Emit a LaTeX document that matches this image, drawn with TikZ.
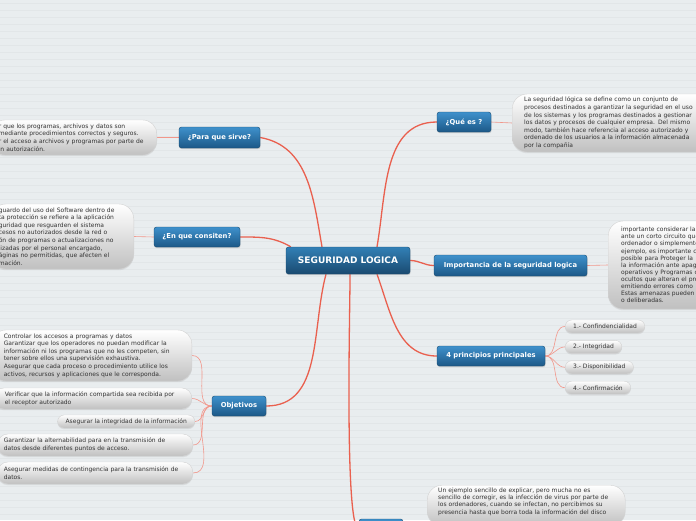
\documentclass[tikz,border=0pt]{standalone}
\usepackage{fontspec}
\setmainfont{DejaVu Sans}
\usetikzlibrary{positioning,shadows,backgrounds}
\definecolor{mapbg}{HTML}{E9EDEF}
\definecolor{ruleline}{HTML}{E2E6E8}
\definecolor{topictop}{HTML}{3F91CC}
\definecolor{topicbot}{HTML}{1C5887}
\definecolor{topicedge}{HTML}{174A70}
\definecolor{roottop}{HTML}{3280B6}
\definecolor{rootbot}{HTML}{1A4A70}
\definecolor{branchred}{HTML}{E9604F}
\definecolor{twigred}{HTML}{F2968A}
\definecolor{notegrey}{HTML}{C0C0C0}
\definecolor{noteedge}{HTML}{D2D2D2}
\definecolor{notetext}{HTML}{333333}

\begin{document}
\begin{tikzpicture}[
  x=1pt, y=1pt,
  topic/.style={
    draw=topicedge,
    rounded corners=2.5pt,
    top color=topictop,
    bottom color=topicbot,
    text=white,
    inner sep=0pt,
    minimum height=20pt,
    font=\fontsize{6.8}{7}\selectfont\bfseries,
    drop shadow={opacity=0.3, shadow xshift=0.5pt, shadow yshift=-1.2pt}
  },
  root/.style={
    topic,
    top color=roottop,
    bottom color=rootbot,
    minimum height=27pt,
    font=\fontsize{9}{9}\selectfont\bfseries
  },
  note/.style={
    draw=noteedge,
    rounded corners=10pt,
    top color=white,
    bottom color=notegrey,
    text=notetext,
    align=left,
    inner ysep=3pt,
    font=\fontsize{6}{7.6}\selectfont,
    drop shadow={opacity=0.15, shadow xshift=0pt, shadow yshift=-1.2pt}
  },
  leaf/.style={note, rounded corners=6.5pt, inner xsep=8pt, inner ysep=0pt, minimum height=13pt},
  branch/.style={draw=branchred, line width=1.3pt},
  twig/.style={draw=twigred, line width=0.6pt}
]
\useasboundingbox (0,0) rectangle (696,-520);

\node[root, minimum width=124pt] (seg) at (348,-260.5) {SEGURIDAD LOGICA};
\node[topic, minimum width=54pt] (que) at (464,-122) {¿Qué es ?};
\node[topic, minimum width=81pt, minimum height=21pt] (para) at (219.5,-137.5) {¿Para que sirve?};
\node[topic, minimum width=86pt] (enque) at (197,-237) {¿En que consiten?};
\node[topic, minimum width=153pt, minimum height=21pt] (imp) at (510.5,-265.5) {Importancia de la seguridad logica};
\node[topic, minimum width=108pt] (princ) at (491,-356) {4 principios principales};
\node[topic, minimum width=54pt] (obj) at (239,-406) {Objetivos};
\node[topic, minimum width=44pt] (ejem) at (381,-529) {};

\node[note, anchor=west, text width=190pt, inner xsep=12pt, minimum height=58pt, rounded corners=15pt] (quenote) at (512,-123)
{La seguridad lógica se define como un conjunto de\\
procesos destinados a garantizar la seguridad en el uso\\
de los sistemas y los programas destinados a gestionar\\
los datos y procesos de cualquier empresa. Del mismo\\
modo, también hace referencia al acceso autorizado y\\
ordenado de los usuarios a la información almacenada\\
por la compañía};
\node[note, anchor=east, text width=150pt, inner xsep=8pt, minimum height=35pt, rounded corners=14pt] (paranote) at (157,-137.5)
{r que los programas, archivos y datos son\\
mediante procedimientos correctos y seguros.\\
r el acceso a archivos y programas por parte de\\
in autorización.};
\node[note, anchor=east, text width=127pt, inner xsep=8pt, minimum height=65pt, rounded corners=15pt] (enquenote) at (134,-236.5)
{guardo del uso del Software dentro de\\
ta protección se refiere a la aplicación\\
guridad que resguarden el sistema\\
cesos no autorizados desde la red o\\
ón de programas o actualizaciones no\\
lizadas por el personal encargado,\\
áginas no permitidas, que afecten el\\
mación.};
\node[note, anchor=west, text width=140pt, inner xsep=13pt, minimum height=88pt, rounded corners=15pt,
  font=\fontsize{6}{7.1}\selectfont] (impnote) at (608,-265)
{importante considerar la\\
ante un corto circuito que\\
ordenador o simplemente\\
ejemplo, es importante c\\
posible para Proteger la\\
la información ante apag\\
operativos y Programas c\\
ocultos que alteran el pro\\
emitiendo errores como\\
Estas amenazas pueden\\
o deliberadas.};
\node[note, anchor=north west, text width=176pt, inner xsep=11pt, text depth=30pt, rounded corners=15pt,
  font=\fontsize{6}{7.1}\selectfont] (ejemnote) at (427,-485)
{Un ejemplo sencillo de explicar, pero mucha no es\\
sencillo de corregir, es la infección de virus por parte de\\
los ordenadores, cuando se infectan, no percibimos su\\
presencia hasta que borra toda la información del disco};

\node[leaf, anchor=west] (pa) at (565,-326.5) {1.- Confindencialidad};
\node[leaf, below right=7pt and 0pt of pa.south west] (pb) {2.- Integridad};
\node[leaf, below right=7pt and 0pt of pb.south west] (pc) {3.- Disponibilidad};
\node[leaf, below right=7pt and 0pt of pc.south west] (pd) {4.- Confirmación};

\node[note, anchor=east, text width=176pt, inner xsep=12pt, minimum height=51pt, rounded corners=14pt] (obja) at (192,-355.5)
{Controlar los accesos a programas y datos\\
Garantizar que los operadores no puedan modificar la\\
información ni los programas que no les competen, sin\\
tener sobre ellos una supervisión exhaustiva.\\
Asegurar que cada proceso o procedimiento utilice los\\
activos, recursos y aplicaciones que le corresponda.};
\node[note, anchor=east, text width=176pt, inner xsep=11pt, minimum height=21pt] (objb) at (192,-398.5)
{Verificar que la información compartida sea recibida por\\
el receptor autorizado};
\node[leaf, anchor=east] (objc) at (195,-421.5) {Asegurar la integridad de la información};
\node[note, anchor=east, text width=183pt, inner xsep=6pt, minimum height=22pt] (objd) at (193,-445)
{Garantizar la alternabilidad para en la transmisión de\\
datos desde diferentes puntos de acceso.};
\node[note, anchor=east, text width=183pt, inner xsep=6pt, minimum height=22pt] (obje) at (193,-473)
{Asegurar medidas de contingencia para la transmisión de\\
datos.};

\begin{scope}[on background layer]
\fill[mapbg] (0,0) rectangle (696,-520);
\foreach \k in {3,10,...,517}
  \draw[ruleline, line width=0.6pt] (0,-\k) -- (696,-\k);
\draw[branch] ([xshift=29pt]seg.north) to[out=80, in=180] (que.west);
\draw[branch] (para.east) to[out=-10, in=100] ([xshift=-26pt]seg.north);
\draw[branch] (enque.east) to[out=0, in=150] ([xshift=5pt]seg.north west);
\draw[branch] (seg.east) to[out=0, in=180] (imp.west);
\draw[branch] ([xshift=29pt]seg.south) to[out=-70, in=180] (princ.west);
\draw[branch] ([xshift=-22pt]seg.south) to[out=-105, in=0] (obj.east);
\draw[branch] ([xshift=2pt]seg.south) to[out=-88, in=180, looseness=0.15] (ejem.west);
\draw[twig] (que.east) -- (quenote.west);
\draw[twig] (para.west) -- (paranote.east);
\draw[twig] (enque.west) -- (enquenote.east);
\draw[twig] (imp.east) -- (impnote.west);
\foreach \p in {pa,pb,pc,pd}
  \draw[twig] (princ.east) to[out=0, in=180] (\p.west);
\foreach \o in {obja,objb,objc,objd,obje}
  \draw[twig] (obj.west) to[out=180, in=0] (\o.east);
\end{scope}
\end{tikzpicture}
\end{document}
